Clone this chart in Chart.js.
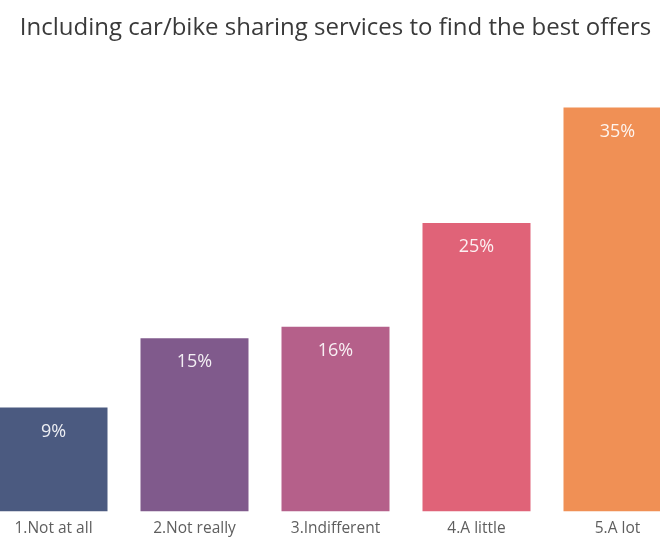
<!DOCTYPE html>
<html>
<head>
<meta charset="utf-8">
<script src="https://cdn.jsdelivr.net/npm/chart.js@4/dist/chart.umd.min.js"></script>
<style>
  html, body { margin: 0; padding: 0; background: #fff; overflow: hidden; }
  body { width: 660px; height: 539px; position: relative; overflow: hidden; }
  #wrap { position: absolute; left: -17px; top: 0; width: 705px; height: 547px; }
</style>
</head>
<body>
<div id="wrap"><canvas id="chart"></canvas></div>
<script>
// survey answers and share of respondents (%)
const categories = ['1.Not at all', '2.Not really', '3.Indifferent', '4.A little', '5.A lot'];
const shares = [9, 15, 16, 25, 35];
const barColors = ['#4b5a80', '#805a8c', '#b5608a', '#e06378', '#f09055'];

// draws "xx%" just inside the top of every bar
const valueLabels = {
  id: 'valueLabels',
  afterDatasetsDraw(chart) {
    const ctx = chart.ctx;
    const meta = chart.getDatasetMeta(0);
    ctx.save();
    ctx.font = '18px "Open Sans", sans-serif';
    ctx.fillStyle = 'rgba(255,255,255,0.9)';
    ctx.textAlign = 'center';
    ctx.textBaseline = 'middle';
    meta.data.forEach((bar, i) => {
      ctx.fillText(shares[i] + '%', bar.x, bar.y + 24);
    });
    ctx.restore();
  }
};

new Chart(document.getElementById('chart'), {
  type: 'bar',
  data: {
    labels: categories,
    datasets: [{
      data: shares,
      backgroundColor: barColors,
      borderWidth: 0,
      categoryPercentage: 1,
      barPercentage: 0.766,
    }],
  },
  options: {
    responsive: true,
    maintainAspectRatio: false,
    animation: false,
    layout: { padding: { top: 0, bottom: 1, left: 0, right: 0 } },
    plugins: {
      legend: { display: false },
      tooltip: { enabled: false },
      title: {
        display: true,
        text: 'Including car/bike sharing services to find the best offers',
        color: '#3a3a3a',
        font: { family: '"Open Sans", sans-serif', size: 24, weight: 'normal' },
        padding: { top: 14, bottom: 7 },
      },
    },
    scales: {
      x: {
        grid: { display: false, drawTicks: false },
        border: { display: false },
        ticks: {
          color: '#5e5e5e',
          font: { family: '"Open Sans", sans-serif', size: 15.5 },
          padding: 8,
        },
      },
      y: {
        display: false,
        min: 0,
        max: 40,
      },
    },
  },
  plugins: [valueLabels],
});
</script>
</body>
</html>
